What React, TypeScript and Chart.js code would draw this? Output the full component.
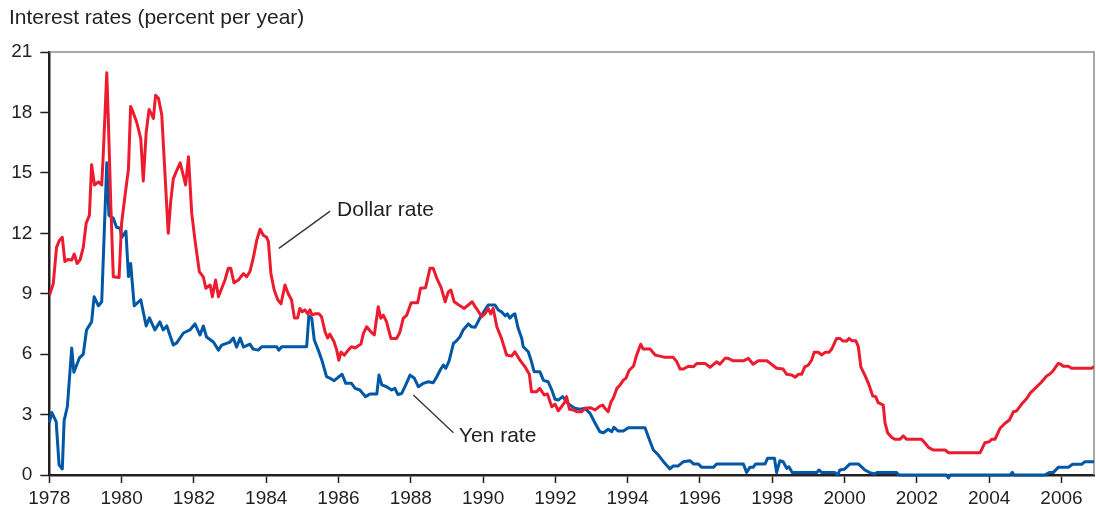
import React, { useEffect, useRef } from "react";
import { Chart, registerables } from "chart.js";

Chart.register(...registerables);

const INK = "#231f20";
const FONT = '"Liberation Sans", Arial, Helvetica, sans-serif';

const chartTitle = "Interest rates (percent per year)";
const yearTicks = [1978, 1980, 1982, 1984, 1986, 1988, 1990, 1992, 1994, 1996, 1998, 2000, 2002, 2004, 2006];
const rateTicks = [0, 3, 6, 9, 12, 15, 18, 21];

const dollarYears = [
  1978.0, 1978.11, 1978.2, 1978.28, 1978.36, 1978.43, 1978.51, 1978.62, 1978.69, 1978.77, 1978.85, 1978.94,
  1979.02, 1979.11, 1979.17, 1979.25, 1979.36, 1979.45, 1979.49, 1979.59, 1979.63, 1979.7, 1979.77, 1979.93,
  1980.0, 1980.09, 1980.19, 1980.25, 1980.32, 1980.42, 1980.53, 1980.6, 1980.68, 1980.76, 1980.83, 1980.88, 1980.94,
  1981.02, 1981.11, 1981.29, 1981.36, 1981.43, 1981.52, 1981.62, 1981.69, 1981.77, 1981.85, 1981.94,
  1982.03, 1982.15, 1982.26, 1982.33, 1982.45, 1982.51, 1982.6, 1982.68, 1982.77, 1982.86, 1982.95,
  1983.02, 1983.11, 1983.23, 1983.37, 1983.46, 1983.55, 1983.64, 1983.74, 1983.83, 1983.92,
  1984.01, 1984.06, 1984.13, 1984.22, 1984.32, 1984.41, 1984.52, 1984.61, 1984.7, 1984.78, 1984.87, 1984.93,
  1985.0, 1985.07, 1985.15, 1985.21, 1985.27, 1985.35, 1985.46, 1985.53, 1985.63, 1985.7, 1985.76, 1985.88, 1985.95,
  1986.01, 1986.07, 1986.16, 1986.27, 1986.36, 1986.46, 1986.62, 1986.69, 1986.78, 1986.9, 1986.99,
  1987.1, 1987.17, 1987.24, 1987.33, 1987.45, 1987.61, 1987.7, 1987.79, 1987.89,
  1988.01, 1988.19, 1988.27, 1988.41, 1988.53, 1988.62, 1988.72, 1988.84, 1988.95,
  1989.04, 1989.11, 1989.2, 1989.33, 1989.48, 1989.59, 1989.7, 1989.78, 1989.82, 1989.96,
  1990.05, 1990.14, 1990.21, 1990.28, 1990.38, 1990.51, 1990.65, 1990.79, 1990.88,
  1991.02, 1991.16, 1991.28, 1991.34, 1991.48, 1991.57, 1991.69, 1991.78, 1991.9, 1991.99,
  1992.08, 1992.17, 1992.25, 1992.31, 1992.39, 1992.5, 1992.59, 1992.73, 1992.82, 1992.96,
  1993.1, 1993.23, 1993.31, 1993.37, 1993.46, 1993.54, 1993.6, 1993.7, 1993.79, 1993.88, 1993.95,
  1994.04, 1994.16, 1994.25, 1994.36, 1994.43, 1994.62, 1994.76, 1994.89,
  1995.03, 1995.26, 1995.36, 1995.45, 1995.54, 1995.68, 1995.82, 1995.91,
  1996.14, 1996.28, 1996.46, 1996.55, 1996.69, 1996.78, 1996.92,
  1997.2, 1997.34, 1997.47, 1997.61, 1997.85, 1997.98,
  1998.12, 1998.3, 1998.4, 1998.54, 1998.63, 1998.72, 1998.81, 1998.9,
  1999.0, 1999.09, 1999.16, 1999.27, 1999.37, 1999.46, 1999.57, 1999.64, 1999.78, 1999.87, 1999.96,
  2000.06, 2000.12, 2000.2, 2000.31, 2000.38, 2000.45, 2000.56, 2000.66, 2000.78, 2000.86, 2000.93,
  2001.07, 2001.12, 2001.19, 2001.3, 2001.39, 2001.53, 2001.62, 2001.72,
  2002.13, 2002.22, 2002.32, 2002.45, 2002.78, 2002.87,
  2003.75, 2003.82, 2003.88,
  2004.0, 2004.07, 2004.16, 2004.3, 2004.44, 2004.56, 2004.67, 2004.76, 2004.9,
  2005.04, 2005.13, 2005.27, 2005.43, 2005.59, 2005.68, 2005.77, 2005.91, 2005.98,
  2006.05, 2006.19, 2006.28, 2006.84, 2006.9,
];

const dollarRates = [
  8.9, 9.5, 11.3, 11.65, 11.8, 10.6, 10.7, 10.67, 10.97, 10.5, 10.67, 11.3,
  12.5, 12.9, 15.4, 14.4, 14.55, 14.4, 15.8, 19.97, 17.8, 13.5, 9.84, 9.8,
  12.5, 13.8, 15.2, 18.3, 18.0, 17.5, 16.7, 14.6, 17.0, 18.15, 17.9, 17.7, 18.85,
  18.7, 17.9, 12.0, 13.6, 14.7, 15.1, 15.5, 15.0, 14.4, 15.8, 13.0,
  11.66, 10.1, 9.84, 9.27, 9.43, 8.85, 9.68, 8.85, 9.27, 9.68, 10.26,
  10.26, 9.54, 9.68, 10.0, 9.84, 10.1, 10.75, 11.66, 12.2, 11.9,
  11.8, 11.6, 10.0, 9.2, 8.7, 8.5, 9.43, 9.0, 8.7, 7.8, 7.8, 8.27,
  8.1, 8.2, 8.0, 8.2, 7.94, 8.0, 8.0, 7.86, 7.1, 6.8, 7.0, 6.6, 6.2,
  5.7, 6.1, 5.95, 6.2, 6.37, 6.3, 6.5, 7.03, 7.36, 7.1, 6.95,
  8.35, 7.78, 7.94, 7.6, 6.78, 6.78, 7.1, 7.78, 7.94,
  8.55, 8.55, 9.27, 9.3, 10.26, 10.26, 9.76, 9.3, 8.6,
  9.1, 9.18, 8.6, 8.44, 8.27, 8.44, 8.6, 8.35, 8.27, 7.86,
  8.0, 8.27, 8.0, 8.27, 7.36, 6.78, 5.96, 5.9, 6.12,
  5.7, 5.37, 5.0, 4.13, 4.13, 4.3, 3.97, 4.02, 3.39, 3.52,
  3.19, 3.39, 3.59, 3.89, 3.26, 3.23, 3.14, 3.14, 3.31, 3.34,
  3.23, 3.42, 3.47, 3.31, 3.14, 3.64, 3.8, 4.3, 4.47, 4.71, 4.8,
  5.2, 5.4, 5.96, 6.49, 6.25, 6.25, 5.96, 5.9,
  5.84, 5.84, 5.62, 5.26, 5.26, 5.4, 5.37, 5.54,
  5.54, 5.35, 5.62, 5.5, 5.79, 5.79, 5.67,
  5.67, 5.79, 5.5, 5.67, 5.67, 5.5,
  5.3, 5.26, 5.0, 4.96, 4.85, 5.0, 5.0, 5.37,
  5.46, 5.71, 6.09, 6.09, 5.96, 6.09, 6.09, 6.24, 6.78, 6.78, 6.65,
  6.65, 6.78, 6.67, 6.67, 6.37, 5.37, 4.96, 4.55, 3.92, 3.89, 3.59,
  3.47, 2.57, 2.1, 1.87, 1.77, 1.77, 1.94, 1.77,
  1.77, 1.6, 1.37, 1.24, 1.24, 1.11,
  1.11, 1.37, 1.6,
  1.65, 1.77, 1.77, 2.32, 2.57, 2.73, 3.14, 3.18, 3.52,
  3.8, 4.05, 4.3, 4.58, 4.91, 5.01, 5.18, 5.54, 5.5,
  5.4, 5.4, 5.3, 5.3, 5.4,
];

const yenYears = [
  1978.0, 1978.07, 1978.19, 1978.27, 1978.36, 1978.41, 1978.5, 1978.62, 1978.68, 1978.83, 1978.94,
  1979.03, 1979.17, 1979.24, 1979.36, 1979.45, 1979.59, 1979.65, 1979.77, 1979.86, 1979.96,
  1980.0, 1980.12, 1980.19, 1980.25, 1980.35, 1980.53, 1980.68, 1980.77, 1980.92,
  1981.06, 1981.15, 1981.25, 1981.43, 1981.52, 1981.71, 1981.89,
  1982.03, 1982.17, 1982.26, 1982.35, 1982.54, 1982.68, 1982.77,
  1983.0, 1983.09, 1983.18, 1983.28, 1983.37, 1983.55, 1983.64, 1983.78, 1983.88,
  1984.29, 1984.35, 1984.43,
  1985.12, 1985.18, 1985.26, 1985.33, 1985.44, 1985.54, 1985.67, 1985.77, 1985.88, 1985.99,
  1986.1, 1986.2, 1986.36, 1986.46, 1986.59, 1986.75, 1986.87,
  1987.06, 1987.12, 1987.2, 1987.33, 1987.47, 1987.56, 1987.64, 1987.75, 1987.86, 1987.98,
  1988.1, 1988.21, 1988.35, 1988.48, 1988.62, 1988.72, 1988.81, 1988.9, 1988.97,
  1989.06, 1989.18, 1989.27, 1989.36, 1989.45, 1989.59, 1989.68, 1989.78, 1989.91,
  1990.05, 1990.14, 1990.33, 1990.42, 1990.51, 1990.61, 1990.67, 1990.74, 1990.82, 1990.88, 1990.97,
  1991.07, 1991.11, 1991.25, 1991.34, 1991.41, 1991.57, 1991.67, 1991.8, 1991.9, 1991.99,
  1992.08, 1992.2, 1992.31, 1992.4, 1992.54, 1992.68, 1992.82, 1992.96,
  1993.1, 1993.23, 1993.33, 1993.46, 1993.56, 1993.62, 1993.74, 1993.88,
  1994.02, 1994.48, 1994.57, 1994.71, 1994.85, 1994.99,
  1995.17, 1995.26, 1995.4, 1995.54, 1995.72, 1995.82, 1995.95,
  1996.05, 1996.37, 1996.46,
  1997.2, 1997.29, 1997.38, 1997.47, 1997.54, 1997.8, 1997.87,
  1998.06, 1998.12, 1998.21, 1998.3, 1998.4, 1998.46, 1998.55,
  1999.23, 1999.29, 1999.37, 1999.73, 1999.81, 1999.87, 1999.99,
  2000.15, 2000.38, 2000.56, 2000.7, 2000.84, 2000.89,
  2001.44, 2001.51,
  2002.82, 2002.87, 2002.93,
  2004.58, 2004.64, 2004.69,
  2005.54, 2005.66, 2005.77, 2005.91,
  2006.19, 2006.31, 2006.56, 2006.65, 2006.9,
];

const yenRates = [
  2.6, 3.1, 2.65, 0.5, 0.3, 2.7, 3.4, 6.3, 5.1, 5.8, 6.0,
  7.2, 7.6, 8.85, 8.4, 8.6, 15.5, 12.9, 12.75, 12.3, 12.25,
  11.8, 12.1, 9.85, 10.5, 8.4, 8.7, 7.4, 7.8, 7.2,
  7.6, 7.2, 7.4, 6.45, 6.55, 7.05, 7.2,
  7.5, 6.95, 7.4, 6.85, 6.6, 6.2, 6.45,
  6.6, 6.8, 6.35, 6.8, 6.35, 6.5, 6.25, 6.2, 6.37,
  6.37, 6.2, 6.37,
  6.37, 7.9, 7.78, 6.7, 6.2, 5.7, 4.88, 4.8, 4.68, 4.85,
  5.0, 4.55, 4.55, 4.3, 4.22, 3.89, 4.02,
  4.02, 4.96, 4.47, 4.38, 4.22, 4.3, 4.0, 4.05, 4.47, 4.96,
  4.8, 4.38, 4.55, 4.63, 4.58, 4.88, 5.2, 5.46, 5.3,
  5.67, 6.53, 6.67, 6.86, 7.2, 7.5, 7.36, 7.33, 7.78,
  8.19, 8.44, 8.44, 8.19, 8.1, 7.9, 8.0, 7.78, 7.94, 8.0, 7.28,
  6.78, 6.37, 6.12, 5.62, 5.13, 5.13, 4.7, 4.63, 4.22, 3.76,
  3.72, 3.89, 3.64, 3.47, 3.31, 3.26, 3.31, 3.06,
  2.57, 2.15, 2.1, 2.27, 2.15, 2.37, 2.18, 2.18,
  2.35, 2.35, 1.9, 1.24, 0.99, 0.66,
  0.3, 0.45, 0.45, 0.66, 0.71, 0.55, 0.55,
  0.38, 0.38, 0.55,
  0.55, 0.13, 0.38, 0.38, 0.55, 0.55, 0.83,
  0.83, 0.12, 0.71, 0.66, 0.33, 0.41, 0.12,
  0.12, 0.25, 0.12, 0.12, 0.0, 0.25, 0.28,
  0.55, 0.55, 0.25, 0.12, 0.05, 0.12,
  0.12, 0.0,
  0.0, -0.15, 0.0,
  0.0, 0.13, 0.0,
  0.0, 0.12, 0.12, 0.38,
  0.38, 0.53, 0.53, 0.66, 0.66,
];

const dollarLabel = "Dollar rate";
const yenLabel = "Yen rate";
// label anchors in data units: leader start, leader end, text baseline-left
const dollarNote = { text: dollarLabel, from: [1984.35, 11.25], to: [1985.77, 13.1], at: [1985.96, 12.85] };
const yenNote = { text: yenLabel, from: [1988.07, 3.97], to: [1989.18, 2.1], at: [1989.33, 1.64] };

const toPoints = (xs: number[], ys: number[]) => xs.map((x, i) => ({ x, y: ys[i] }));

export default function App() {
  const ref = useRef<HTMLCanvasElement>(null);

  useEffect(() => {
    const canvas = ref.current;
    if (!canvas) return;

    const framePlugin = {
      id: "frame",
      beforeDatasetsDraw(chart: any) {
        const { ctx, chartArea: a } = chart;
        ctx.save();
        ctx.strokeStyle = "#8c8c8c";
        ctx.lineWidth = 1.5;
        ctx.beginPath();
        ctx.moveTo(a.left, a.top);
        ctx.lineTo(a.right, a.top);
        ctx.lineTo(a.right, a.bottom);
        ctx.stroke();
        ctx.restore();
      },
    };

    const notePlugin = {
      id: "notes",
      afterDraw(chart: any) {
        const { ctx, scales } = chart;
        const sx = scales.x;
        const sy = scales.y;
        ctx.save();
        for (const n of [dollarNote, yenNote]) {
          ctx.strokeStyle = "#333333";
          ctx.lineWidth = 1.3;
          ctx.beginPath();
          ctx.moveTo(sx.getPixelForValue(n.from[0]), sy.getPixelForValue(n.from[1]));
          ctx.lineTo(sx.getPixelForValue(n.to[0]), sy.getPixelForValue(n.to[1]));
          ctx.stroke();
          ctx.font = `21px ${FONT}`;
          ctx.fillStyle = INK;
          ctx.textAlign = "left";
          ctx.textBaseline = "alphabetic";
          ctx.fillText(n.text, sx.getPixelForValue(n.at[0]), sy.getPixelForValue(n.at[1]));
        }
        ctx.restore();
      },
    };

    const chart = new Chart(canvas, {
      type: "line",
      data: {
        datasets: [
          {
            label: dollarLabel,
            data: toPoints(dollarYears, dollarRates),
            borderColor: "#ec1c2e",
            backgroundColor: "#ec1c2e",
            borderWidth: 3,
            pointRadius: 0,
            tension: 0,
            borderJoinStyle: "round",
          },
          {
            label: yenLabel,
            data: toPoints(yenYears, yenRates),
            borderColor: "#0057a6",
            backgroundColor: "#0057a6",
            borderWidth: 3,
            pointRadius: 0,
            tension: 0,
            borderJoinStyle: "round",
            clip: { left: 2, top: 2, right: 2, bottom: 6 },
          },
        ],
      },
      options: {
        responsive: false,
        animation: false,
        events: [],
        layout: { padding: { left: 9, right: 2, top: 0, bottom: 0 } },
        plugins: {
          legend: { display: false },
          tooltip: { enabled: false },
          title: {
            display: true,
            text: chartTitle,
            align: "start",
            color: INK,
            font: { family: FONT, size: 21, weight: "normal" },
            padding: { top: 5.5, bottom: 21.3 },
          },
        },
        scales: {
          x: {
            type: "linear",
            min: 1978,
            max: 2006.9,
            z: 1,
            afterBuildTicks: (s: any) => {
              s.ticks = yearTicks.map((v) => ({ value: v }));
            },
            afterFit: (s: any) => {
              s.height = 43;
            },
            grid: {
              drawOnChartArea: false,
              drawTicks: true,
              tickLength: 8,
              tickColor: INK,
              tickWidth: 1.5,
            },
            border: { display: true, color: INK, width: 2.5 },
            ticks: {
              autoSkip: false,
              maxRotation: 0,
              padding: 4,
              color: INK,
              font: { family: FONT, size: 19 },
              callback: (v: any) => String(v),
            },
          },
          y: {
            type: "linear",
            min: 0,
            max: 21,
            z: 1,
            afterBuildTicks: (s: any) => {
              s.ticks = rateTicks.map((v) => ({ value: v }));
            },
            afterFit: (s: any) => {
              s.width = 40.3;
            },
            grid: {
              drawOnChartArea: false,
              drawTicks: true,
              tickLength: 9,
              tickColor: INK,
              tickWidth: 1.5,
            },
            border: { display: true, color: INK, width: 2.5 },
            ticks: {
              padding: 8,
              color: INK,
              font: { family: FONT, size: 19 },
              callback: (v: any) => String(v),
            },
          },
        },
      },
      plugins: [framePlugin, notePlugin],
    } as any);

    return () => chart.destroy();
  }, []);

  return (
    <div style={{ position: "absolute", left: 0, top: 0, width: 1096, height: 518, background: "#ffffff" }}>
      <canvas ref={ref} width={1096} height={518} style={{ display: "block", width: 1096, height: 518 }} />
    </div>
  );
}
